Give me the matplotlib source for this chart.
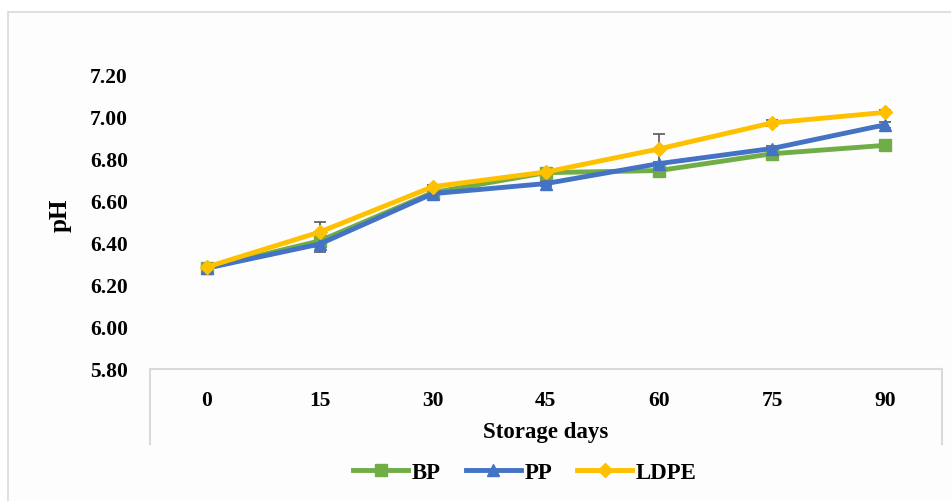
import matplotlib
matplotlib.use("Agg")
import matplotlib.pyplot as plt
from matplotlib.patches import Rectangle
from matplotlib.lines import Line2D

days = ["0", "15", "30", "45", "60", "75", "90"]
bp = [6.28, 6.41, 6.64, 6.735, 6.745, 6.825, 6.865]
pp = [6.28, 6.395, 6.635, 6.683, 6.778, 6.85, 6.963]
ldpe = [6.285, 6.452, 6.668, 6.738, 6.848, 6.972, 7.022]
bp_err = [0.01, 0.02, 0.01, 0.01, 0.01, 0.015, 0.01]
pp_err = [0.005, 0.04, 0.01, 0.01, 0.01, 0.01, 0.015]
ldpe_err = [0.01, 0.05, 0.01, 0.01, 0.07, 0.015, 0.01]
yticks = [5.80, 6.00, 6.20, 6.40, 6.60, 6.80, 7.00, 7.20]

plt.rcParams['font.family'] = ['Liberation Serif', 'DejaVu Serif']
plt.rcParams['font.weight'] = 'bold'

W, H = 951, 502
fig = plt.figure(figsize=(W / 100, H / 100), dpi=100)
fig.patch.set_facecolor('white')
fig.add_artist(Rectangle((8 / W, -0.1), 1.2, 1 - 13 / H + 0.1, transform=fig.transFigure,
                         facecolor='#fdfdfd', edgecolor='#d9d9d9', linewidth=1.2, zorder=0))

left, right = 150 / W, 941.7 / W
top, bottom = 1 - 76 / H, 1 - 370 / H
ax = fig.add_axes([left, bottom, right - left, top - bottom])
ax.set_facecolor('none')

x = list(range(len(days)))
series = [("BP", bp, bp_err, '#70AD47', 's', 8),
          ("PP", pp, pp_err, '#4472C4', '^', 9),
          ("LDPE", ldpe, ldpe_err, '#FFC000', 'D', 7)]
for name, vals, err, col, mk, ms in series:
    ax.errorbar(x, vals, yerr=err, color=col, linewidth=3.5, marker=mk, markersize=ms,
                ecolor='#595959', elinewidth=1.2, capsize=4, capthick=1.2, label=name, zorder=3)

ax.set_xlim(-0.5, len(days) - 0.5)
ax.set_ylim(5.80, 7.20)
ax.set_yticks(yticks)
ax.set_yticklabels([f"{v:.2f}" for v in yticks], fontsize=15.5, fontweight='bold')
ax.set_xticks(x)
ax.set_xticklabels(days, fontsize=15.5, fontweight='bold')
ax.tick_params(axis='y', length=0, pad=16)
ax.tick_params(axis='x', length=0, pad=15)
for s in ['top', 'left', 'right']:
    ax.spines[s].set_visible(False)
ax.spines['bottom'].set_color('#d9d9d9')
ax.spines['bottom'].set_linewidth(1.5)

depth = (445 - 370) / (370 - 76)
for xx in (0, 1):
    ax.add_line(Line2D([xx, xx], [0, -depth], transform=ax.transAxes, color='#d9d9d9',
                       linewidth=1.5, clip_on=False))

fig.text(546 / W, 1 - 433 / H, "Storage days", ha='center', va='center', fontsize=16.5, fontweight='bold')
fig.text(60 / W, 1 - 215 / H, "pH", ha='center', va='center', rotation=90, fontsize=18, fontweight='bold')

handles = [Line2D([], [], color=c, linewidth=3.5, marker=m, markersize=ms) for _, _, _, c, m, ms in series]
fig.legend(handles, [s[0] for s in series], loc='center', bbox_to_anchor=(525 / W, 1 - 473 / H),
           ncol=3, frameon=False, handlelength=2.4, handletextpad=0.15, columnspacing=1.1,
           prop={'weight': 'bold', 'size': 16.5})

fig.savefig("out.png", dpi=100)
